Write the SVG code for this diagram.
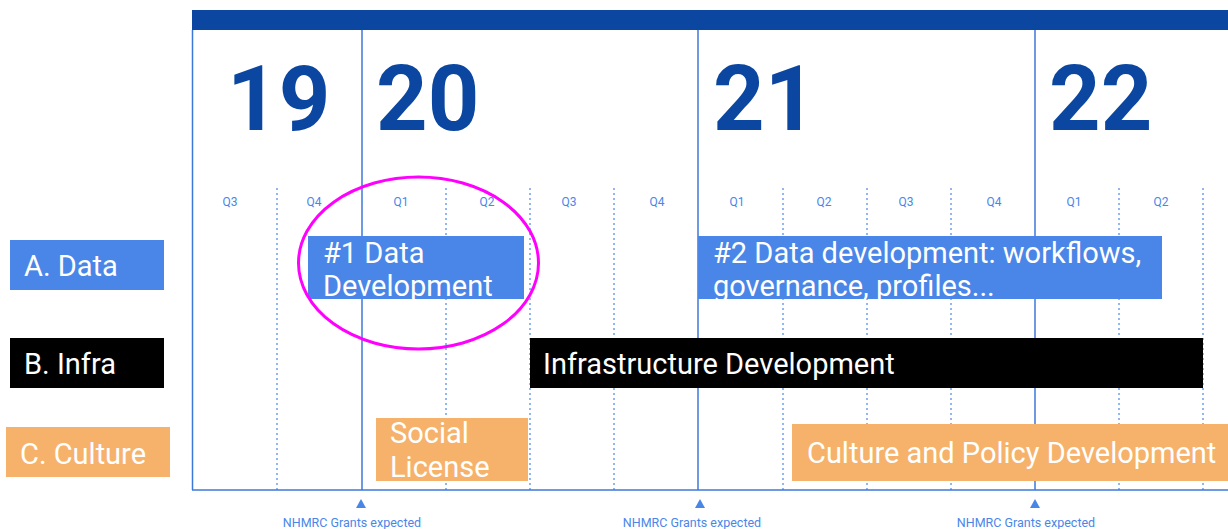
<svg xmlns="http://www.w3.org/2000/svg" width="1228" height="529" viewBox="0 0 1228 529">
<style>
.year{font-family:Roboto,"Liberation Sans",sans-serif;font-weight:bold;font-size:90px;fill:#0b47a1}
.q{font-family:Roboto,"Liberation Sans",sans-serif;font-size:12px;fill:#4a86e8;text-anchor:middle}
.lbl{font-family:Roboto,"Liberation Sans",sans-serif;font-size:29px;fill:#ffffff}
.note{font-family:Roboto,"Liberation Sans",sans-serif;font-size:12.5px;fill:#4a86e8;text-anchor:middle}
.solid{stroke:#3c78d8;stroke-width:1.5;fill:none}
.dot{stroke:#4a86e8;stroke-width:1.2;stroke-dasharray:2 3;fill:none}
.blue{fill:#4a86e8}
.black{fill:#000000}
.orange{fill:#f6b26b}
</style>
<rect width="1228" height="529" fill="#ffffff"/>
<g id="grid">
<rect x="192" y="10" width="1036" height="20" fill="#0b47a1"/>
<line class="solid" x1="192.5" y1="30" x2="192.5" y2="490"/>
<line class="solid" x1="362" y1="30" x2="362" y2="490"/>
<line class="solid" x1="698" y1="30" x2="698" y2="490"/>
<line class="solid" x1="1035" y1="30" x2="1035" y2="490"/>
<g class="dot">
<line x1="277" y1="188" x2="277" y2="490"/>
<line x1="446" y1="188" x2="446" y2="490"/>
<line x1="530" y1="188" x2="530" y2="490"/>
<line x1="614" y1="188" x2="614" y2="490"/>
<line x1="783" y1="188" x2="783" y2="490"/>
<line x1="867" y1="188" x2="867" y2="490"/>
<line x1="951" y1="188" x2="951" y2="490"/>
<line x1="1119" y1="188" x2="1119" y2="490"/>
<line x1="1203" y1="188" x2="1203" y2="490"/>
</g>
<line class="solid" x1="192" y1="490" x2="1228" y2="490"/>
<text class="year" x="227" y="130">19</text>
<text class="year" x="376" y="130">20</text>
<text class="year" x="713" y="130">21</text>
<text class="year" x="1049" y="130">22</text>
<text class="q" x="230" y="206">Q3</text>
<text class="q" x="314" y="206">Q4</text>
<text class="q" x="401" y="206">Q1</text>
<text class="q" x="487" y="206">Q2</text>
<text class="q" x="569" y="206">Q3</text>
<text class="q" x="657" y="206">Q4</text>
<text class="q" x="737" y="206">Q1</text>
<text class="q" x="824" y="206">Q2</text>
<text class="q" x="906" y="206">Q3</text>
<text class="q" x="994" y="206">Q4</text>
<text class="q" x="1074" y="206">Q1</text>
<text class="q" x="1161" y="206">Q2</text>
</g>
<g id="rowA">
<rect class="blue" x="10" y="240" width="154" height="50"/>
<text class="lbl" x="24" y="276">A. Data</text>
</g>
<g id="rowB">
<rect class="black" x="10" y="338" width="154" height="50"/>
<text class="lbl" x="24" y="374">B. Infra</text>
</g>
<g id="rowC">
<rect class="orange" x="6" y="427" width="164" height="50"/>
<text class="lbl" x="20" y="464">C. Culture</text>
</g>
<g id="data1">
<rect class="blue" x="308" y="236" width="216" height="63"/>
<text class="lbl" x="323" y="263">#1 Data</text>
<text class="lbl" x="323" y="296">Development</text>
</g>
<g id="data2">
<rect class="blue" x="698" y="236" width="464" height="63"/>
<text class="lbl" x="713" y="263">#2 Data development: workflows,</text>
<text class="lbl" x="713" y="296">governance, profiles...</text>
</g>
<g id="infra">
<rect class="black" x="530" y="338" width="673" height="50"/>
<text class="lbl" x="543" y="374">Infrastructure Development</text>
</g>
<g id="social">
<rect class="orange" x="376" y="418" width="152" height="63"/>
<text class="lbl" x="390" y="443">Social</text>
<text class="lbl" x="390" y="477">License</text>
</g>
<g id="culture">
<rect class="orange" x="792" y="424" width="436" height="57"/>
<text class="lbl" x="807" y="463">Culture and Policy Development</text>
</g>
<g id="highlight">
<ellipse cx="418.5" cy="263" rx="120" ry="86" fill="none" stroke="#ff00ff" stroke-width="3"/>
</g>
<g id="connectors">
<polygon class="blue" points="361,499 356,508 366,508"/>
<polygon class="blue" points="700,499 695,508 705,508"/>
<polygon class="blue" points="1035,499 1030,508 1040,508"/>
<text class="note" x="352" y="527">NHMRC Grants expected</text>
<text class="note" x="692" y="527">NHMRC Grants expected</text>
<text class="note" x="1026" y="527">NHMRC Grants expected</text>
</g>
</svg>
